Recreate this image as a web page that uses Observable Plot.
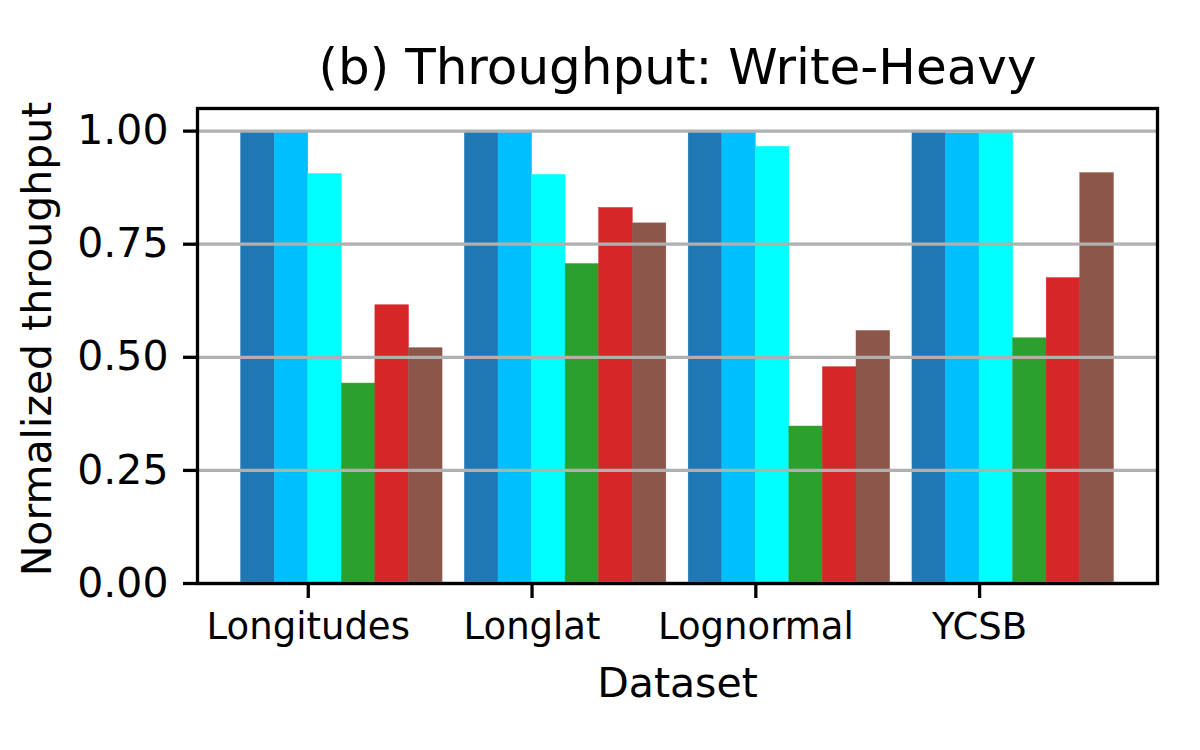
<!DOCTYPE html>
<html>
<head>
<meta charset="utf-8">
<script src="https://cdn.jsdelivr.net/npm/d3@7"></script>
<script src="https://cdn.jsdelivr.net/npm/@observablehq/plot@0.6"></script>
<style>
  html, body { margin: 0; padding: 0; background: #fff; }
  #chart svg { display: block; font-family: "DejaVu Sans", sans-serif; }
</style>
</head>
<body>
<div id="chart"></div>
<script>
const datasets = ["Longitudes", "Longlat", "Lognormal", "YCSB"];
const series = ["S1", "S2", "S3", "S4", "S5", "S6"];
const colors = ["#1f77b4", "#00bfff", "#00ffff", "#2ca02c", "#d62728", "#8c564b"];
// values[series][dataset]
const s1 = [1.000, 1.000, 1.000, 1.000];
const s2 = [1.000, 1.000, 1.000, 0.995];
const s3 = [0.905, 0.903, 0.965, 0.998];
const s4 = [0.442, 0.706, 0.347, 0.542];
const s5 = [0.615, 0.830, 0.478, 0.675];
const s6 = [0.520, 0.796, 0.558, 0.907];
const yTicks = [0, 0.25, 0.5, 0.75, 1.0];

const values = [s1, s2, s3, s4, s5, s6];
const barW = 0.15;
const rows = [];
values.forEach((vals, si) => {
  vals.forEach((v, gi) => {
    rows.push({
      dataset: datasets[gi],
      series: series[si],
      x1: gi - 2 * barW + si * barW,
      x2: gi - 2 * barW + (si + 1) * barW,
      value: v
    });
  });
});
const xMin = -2 * barW, xMax = datasets.length - 1 + 4 * barW;
const pad = (xMax - xMin) * 0.05;

const chart = Plot.plot({
  width: 1200,
  height: 750,
  marginLeft: 197,
  marginRight: 43,
  marginTop: 108,
  marginBottom: 167,
  style: { color: "black", background: "white", fontFamily: "DejaVu Sans, sans-serif" },
  x: { domain: [xMin - pad, xMax + pad] },
  y: { domain: [0, 1.05] },
  color: { domain: series, range: colors },
  marks: [
    Plot.rect(rows, { x1: "x1", x2: "x2", y1: 0, y2: "value", fill: "series", stroke: "series", strokeWidth: 0.5 }),
    Plot.gridY(yTicks, { stroke: "#b0b0b0", strokeOpacity: 1, strokeWidth: 3.3 }),
    Plot.frame({ stroke: "black", strokeWidth: 3.3 }),
    Plot.axisY(yTicks, {
      tickSize: 14, tickPadding: 15, fontSize: 41, strokeWidth: 3.3,
      tickFormat: d3.format(".2f"), label: null
    }),
    Plot.axisX(d3.range(datasets.length), {
      tickSize: 15, tickPadding: 14, fontSize: 37, strokeWidth: 3.3,
      tickFormat: (i) => datasets[i], label: null
    }),
    Plot.text(["(b) Throughput: Write-Heavy"], {
      frameAnchor: "top", lineAnchor: "bottom", dy: -25, fontSize: 50, fill: "black"
    }),
    Plot.text(["Dataset"], {
      frameAnchor: "bottom", lineAnchor: "bottom", dy: 113, fontSize: 41, fill: "black"
    }),
    Plot.text(["Normalized throughput"], {
      frameAnchor: "left", textAnchor: "middle", lineAnchor: "bottom", rotate: -90, dx: -147, dy: -7, fontSize: 41, fill: "black"
    })
  ]
});
document.getElementById("chart").appendChild(chart);
</script>
</body>
</html>
